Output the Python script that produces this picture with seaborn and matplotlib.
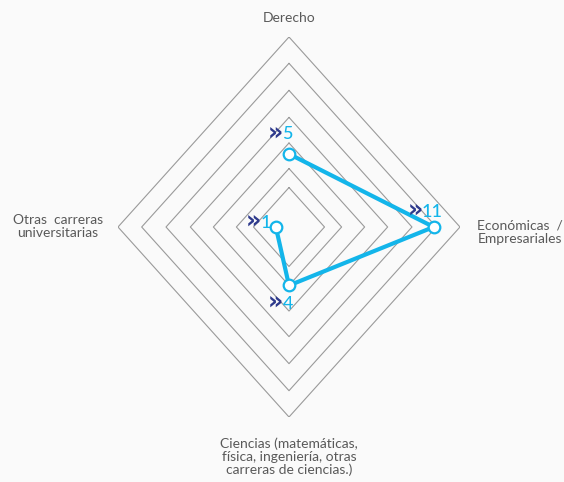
import numpy as np
import pandas as pd
import matplotlib
matplotlib.use("Agg")
import matplotlib.pyplot as plt
import seaborn as sns

# categories clockwise from the top, like the original radar
categorias = ["Derecho", "Económicas  /\nEmpresariales",
              "Ciencias (matemáticas,\nfísica, ingeniería, otras\ncarreras de ciencias.)",
              "Otras  carreras\nuniversitarias"]
valores = [5, 11, 4, 1]
anillos = [2.7, 4.0, 5.75, 7.5, 9.35, 11.2, 13.0]
rmax = 13.0

sns.set_theme(style="white")
plt.rcParams["font.family"] = ["Lato", "DejaVu Sans"]

fig = plt.figure(figsize=(5.64, 4.82), dpi=100)
fig.patch.set_facecolor("#fafafa")
ax = fig.add_axes([118 / 564, 65 / 482, 342 / 564, 380 / 482])
ax.set_facecolor("#fafafa")

ang = np.pi / 2 - np.arange(len(categorias)) * np.pi / 2

# grid diamonds
for r in anillos:
    gx = np.append(r * np.cos(ang), r * np.cos(ang[0]))
    gy = np.append(r * np.sin(ang), r * np.sin(ang[0]))
    ax.plot(gx, gy, color="#9a9a9a", lw=0.8, zorder=1)

df = pd.DataFrame({"cat": categorias, "v": valores})
df["x"] = df.v * np.cos(ang)
df["y"] = df.v * np.sin(ang)
cerrado = pd.concat([df, df.iloc[[0]]], ignore_index=True)

sns.lineplot(data=cerrado, x="x", y="y", sort=False, color="#13b5ea",
             lw=3, ax=ax, zorder=3)
sns.scatterplot(data=df, x="x", y="y", s=70, color="white",
                edgecolor="#13b5ea", linewidth=1.6, ax=ax, zorder=4)

# data labels: navy chevrons + cyan number
offs = [(-1, 14), (-1, 11), (-1, -13), (-7, 3)]
for (_, row), (dx, dy) in zip(df.iterrows(), offs):
    ax.annotate(str(row.v), (row.x, row.y), xytext=(dx, dy),
                textcoords="offset points", ha="center", va="center",
                color="#13b5ea", fontsize=13, fontweight="medium", zorder=5)
    w = 4 if row.v < 10 else 7
    ax.annotate("»", (row.x, row.y), xytext=(dx - w + 0.5, dy + 0.5),
                textcoords="offset points", ha="right", va="center",
                color="#2e3a8c", fontsize=17, fontweight="bold",
                family="DejaVu Sans", zorder=5)

# category labels
lbl = dict(color="#595959", fontsize=10, linespacing=1.1)
ax.text(0, rmax * 1.1, categorias[0], ha="center", va="center", **lbl)
ax.text(rmax * 1.35, -0.35, categorias[1], ha="center", va="center", **lbl)
ax.text(0, -rmax * 1.21, categorias[2], ha="center", va="center", **lbl)
ax.text(-rmax * 1.35, 0.05, categorias[3], ha="center", va="center", **lbl)

ax.set_xlim(-rmax, rmax)
ax.set_ylim(-rmax, rmax)
ax.set_axis_off()

fig.savefig("out.png", dpi=100, facecolor=fig.get_facecolor())
